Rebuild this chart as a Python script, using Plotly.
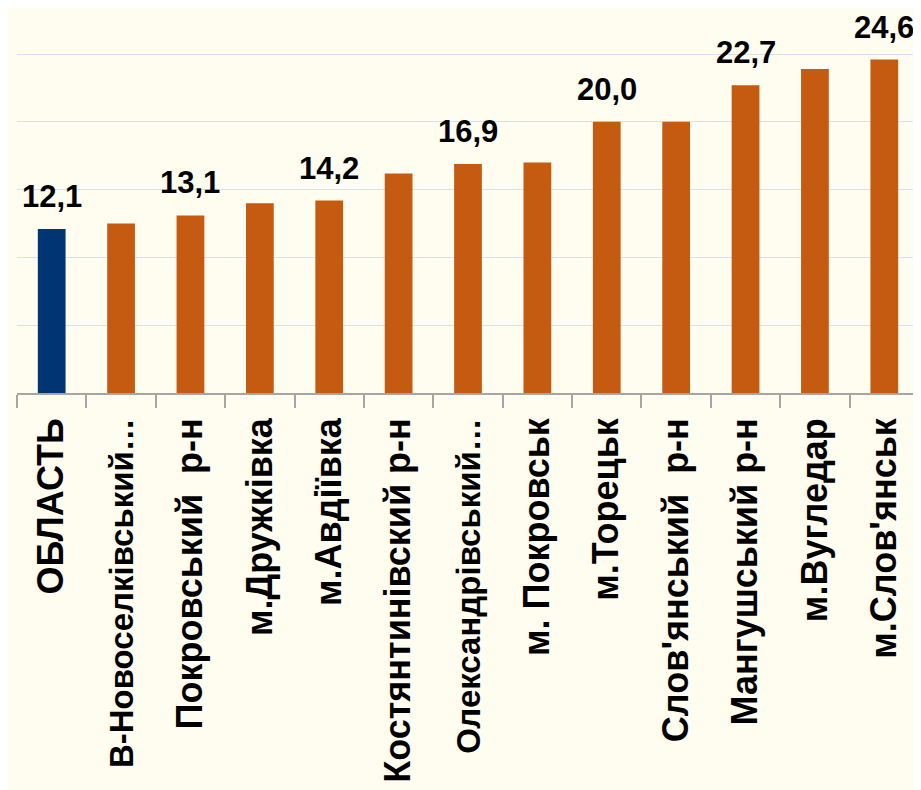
import plotly.graph_objects as go

categories = ["ОБЛАСТЬ", "В-Новоселківський…", "Покровський  р-н", "м.Дружківка",
              "м.Авдіївка", "Костянтинівский р-н", "Олександрівський…", "м. Покровськ",
              "м.Торецьк", "Слов'янський  р-н", "Мангушський р-н", "м.Вугледар", "м.Слов'янськ"]
values = [12.1, 12.5, 13.1, 14.0, 14.2, 16.2, 16.9, 17.0, 20.0, 20.0, 22.7, 23.9, 24.6]
shown_labels = [True, False, True, False, True, False, True, False, True, False, True, False, True]
bar_colors = ["#003473"] + ["#C55A11"] * 12

tick_text = [f'<span style="font-size:33px">{c}</span>' if c.endswith("…") else c
             for c in categories]

fig = go.Figure()
fig.add_trace(go.Bar(
    x=categories, y=values,
    marker=dict(color=bar_colors, line=dict(width=0)),
    width=0.4,
    hoverinfo="x+y",
))

for c, v, s in zip(categories, values, shown_labels):
    if s:
        fig.add_annotation(
            x=c, y=v, text=f"<b>{v:.1f}</b>".replace(".", ","),
            showarrow=False, yanchor="bottom", yshift=13,
            font=dict(family="Liberation Sans, Arial, sans-serif", size=31, color="#000000"),
        )

fig.update_layout(
    width=921, height=790,
    margin=dict(l=9, r=10, t=0, b=405, autoexpand=False),
    paper_bgcolor="#FFFCF0",
    plot_bgcolor="#FFFCF0",
    showlegend=False,
    bargap=0.6,
)
fig.update_xaxes(
    automargin=False,
    tickmode="array", tickvals=categories, ticktext=tick_text,
    tickangle=-90,
    ticks="outside", ticklen=13, tickcolor="#A6A6A6", tickwidth=1.5,
    tickson="boundaries",
    showline=True, linecolor="#A6A6A6", linewidth=1.5,
    showgrid=False,
    ticklabelstandoff=9,
    tickfont=dict(family="Liberation Sans Narrow, Arial Narrow, Liberation Sans, sans-serif",
                  size=36, color="#000000", weight="bold"),
)
fig.update_yaxes(
    automargin=False,
    range=[0, 28.4], dtick=5,
    showgrid=True, gridcolor="#D6E2F3", gridwidth=1.2,
    zeroline=False, showticklabels=False, showline=False,
)

fig.write_html("out.html")
